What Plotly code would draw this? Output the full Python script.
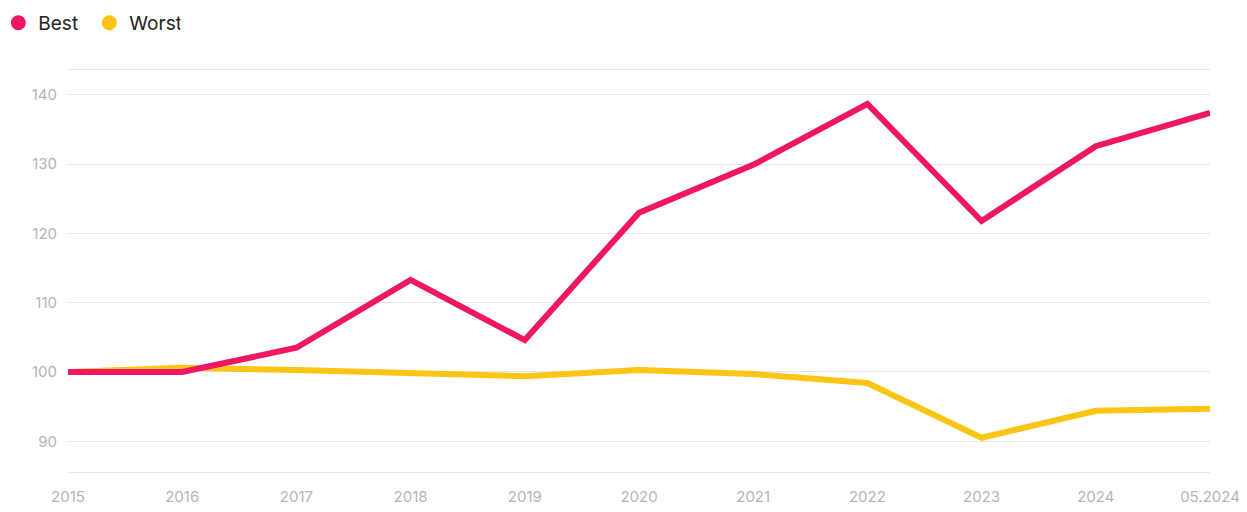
import plotly.graph_objects as go

years = ["2015", "2016", "2017", "2018", "2019", "2020", "2021", "2022", "2023", "2024", "05.2024"]
best = [100, 100, 103.5, 113.3, 104.6, 123.0, 129.9, 138.7, 121.8, 132.6, 137.4]
worst = [100, 100.6, 100.3, 99.9, 99.4, 100.3, 99.7, 98.4, 90.5, 94.4, 94.7]
y_ticks = [90, 100, 110, 120, 130, 140]

pink = "#EF1763"
yellow = "#FAC515"
grid = "#E6E6E6"

fig = go.Figure()
fig.add_trace(go.Scatter(x=years, y=worst, mode="lines", name="Worst",
                         line=dict(color=yellow, width=6), showlegend=False))
fig.add_trace(go.Scatter(x=years, y=best, mode="lines", name="Best",
                         line=dict(color=pink, width=6), showlegend=False))
# legend entries as circles
fig.add_trace(go.Scatter(x=[None], y=[None], mode="markers", name="Best",
                         marker=dict(color=pink, size=15)))
fig.add_trace(go.Scatter(x=[None], y=[None], mode="markers", name="Worst",
                         marker=dict(color=yellow, size=15)))

# page body adds an 8px offset, so the figure is a bit smaller than the window
fig.update_layout(
    width=1239, height=504,
    margin=dict(l=60, r=37, t=62, b=40, autoexpand=False),
    paper_bgcolor="white", plot_bgcolor="white",
    font=dict(family="Inter, Lato, sans-serif", color="#222222"),
    legend=dict(orientation="h", x=-0.061, y=1.117, xanchor="left", yanchor="middle",
                font=dict(size=19, color="#222222"), entrywidth=46,
                tracegroupgap=0),
    xaxis=dict(type="category", range=[0, 10], showgrid=False,
               showline=True, linecolor=grid, linewidth=1, mirror=True,
               ticks="", tickfont=dict(size=15, color="#B5B5B5"),
               ticklabelstandoff=11, zeroline=False),
    yaxis=dict(range=[85.56, 143.6], tickvals=y_ticks, showgrid=True,
               gridcolor=grid, gridwidth=1, zeroline=False, showline=False,
               ticks="", tickfont=dict(size=15, color="#B5B5B5"),
               ticklabelstandoff=10),
)

fig.write_html("out.html")
